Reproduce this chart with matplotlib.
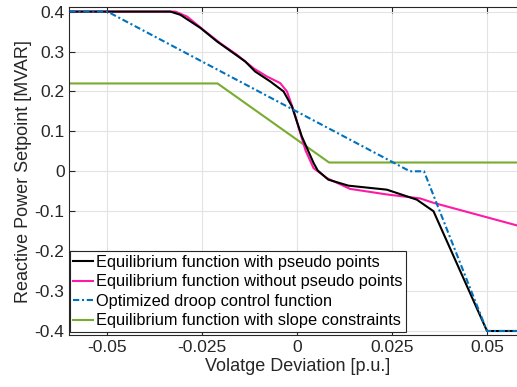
import numpy as np
import matplotlib
matplotlib.use("Agg")
import matplotlib.pyplot as plt

plt.rcParams["font.family"] = ["Liberation Sans", "DejaVu Sans"]

# Equilibrium function with pseudo points
with_pp_x = [-0.06, -0.0334, -0.0308, -0.0255, -0.0211, -0.0168, -0.0137, -0.0111,
             -0.0071, -0.0036, -0.0014, 0.0012, 0.0043, 0.0054, 0.0082, 0.0135,
             0.0236, 0.0315, 0.0359, 0.05, 0.06]
with_pp_y = [0.4, 0.4, 0.392, 0.359, 0.325, 0.296, 0.275, 0.25,
             0.225, 0.2, 0.1625, 0.0875, 0.021, 0.002, -0.021, -0.036,
             -0.046, -0.071, -0.1, -0.4, -0.4]

# Equilibrium function without pseudo points
without_pp_x = [-0.06, -0.0321, -0.029, -0.0247, -0.0203, -0.0159, -0.0115, -0.008,
                -0.0045, -0.0027, -0.001, 0.0008, 0.0022, 0.0043, 0.0078, 0.0139,
                0.0236, 0.0324, 0.0359, 0.06]
without_pp_y = [0.4, 0.4, 0.3875, 0.354, 0.321, 0.292, 0.258, 0.2375,
                0.221, 0.2, 0.154, 0.096, 0.052, 0.008, -0.017, -0.044,
                -0.058, -0.068, -0.079, -0.141]

# Optimized droop control function
droop_x = [-0.06, -0.05, 0.0297, 0.0334, 0.05, 0.06]
droop_y = [0.4, 0.4, 0.0, 0.0, -0.4, -0.4]

# Equilibrium function with slope constraints
slope_x = [-0.06, -0.021, 0.0084, 0.06]
slope_y = [0.22, 0.22, 0.022, 0.022]

x_ticks = [-0.05, -0.025, 0, 0.025, 0.05]
x_ticklabels = ["-0.05", "-0.025", "0", "0.025", "0.05"]
y_ticks = [-0.4, -0.3, -0.2, -0.1, 0, 0.1, 0.2, 0.3, 0.4]
y_ticklabels = ["-0.4", "-0.3", "-0.2", "-0.1", "0", "0.1", "0.2", "0.3", "0.4"]

fig = plt.figure(figsize=(5.17, 3.87), dpi=100)
# axes runs past the right edge, as in the cropped original
ax = fig.add_axes([0.1344, 0.1344, 0.881, 0.847])

ax.plot(with_pp_x, with_pp_y, color="black", lw=1.5, label="Equilibrium function with pseudo points", zorder=4)
ax.plot(without_pp_x, without_pp_y, color="#FF1AA5", lw=1.5, label="Equilibrium function without pseudo points", zorder=3)
ax.plot(droop_x, droop_y, color="#0072BD", lw=1.5, ls="-.", dashes=(3, 1.3, 1, 1.3),
        label="Optimized droop control function", zorder=5)
ax.plot(slope_x, slope_y, color="#77AC30", lw=1.5, label="Equilibrium function with slope constraints", zorder=2)

ax.set_xlim(-0.06, 0.06)
ax.set_ylim(-0.41, 0.411)
ax.set_xticks(x_ticks)
ax.set_xticklabels(x_ticklabels)
ax.set_yticks(y_ticks)
ax.set_yticklabels(y_ticklabels)

ax.grid(True, color="#E3E3E3", lw=0.8)
ax.set_axisbelow(True)
ax.tick_params(direction="in", top=True, right=True, labelsize=12.5,
               colors="#262626", length=4, width=0.8)
for s in ax.spines.values():
    s.set_color("#262626")
    s.set_linewidth(0.8)

ax.set_xlabel("Volatge Deviation [p.u.]", fontsize=13, color="#262626", labelpad=2)
ax.set_ylabel("Reactive Power Setpoint [MVAR]", fontsize=13, color="#262626", labelpad=2)

leg = ax.legend(loc="lower left", bbox_to_anchor=(0.001, 0.01), borderaxespad=0,
                fontsize=11.8, handlelength=1.2, handletextpad=0.2, labelspacing=0.28,
                borderpad=0.2, fancybox=False, framealpha=1, edgecolor="#262626")
leg.get_frame().set_linewidth(0.8)

fig.savefig("out.png", dpi=100)
